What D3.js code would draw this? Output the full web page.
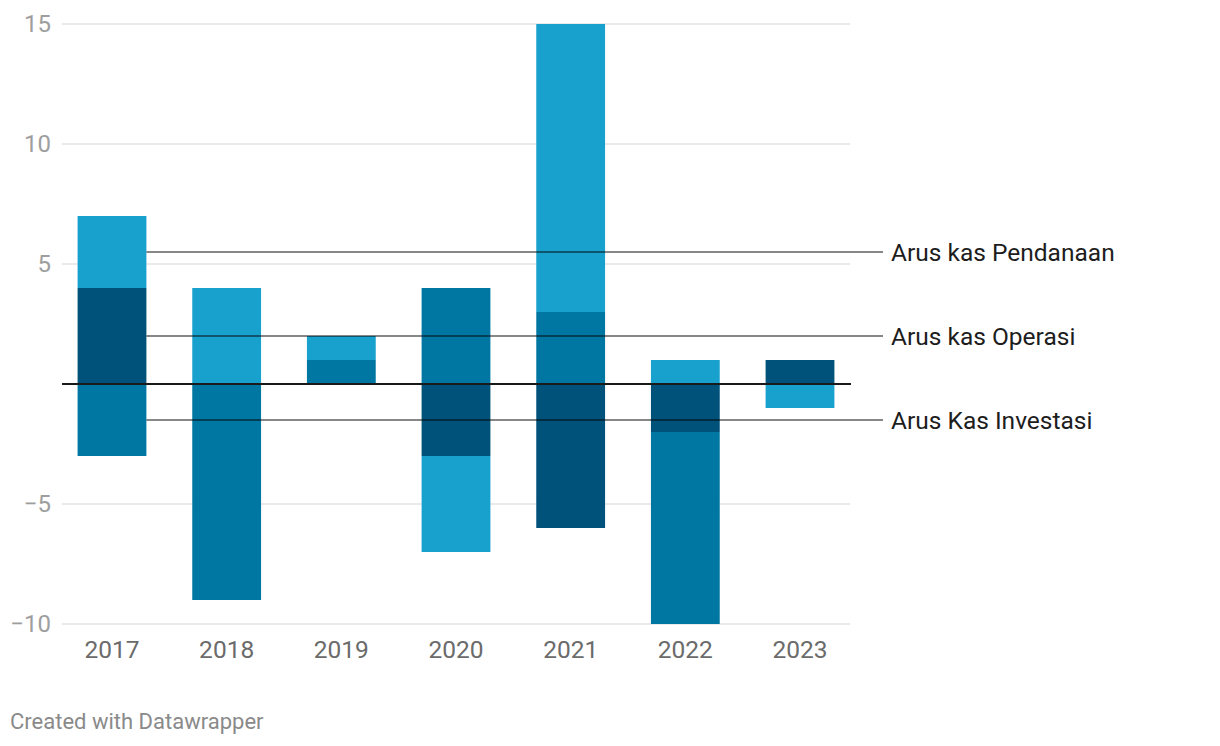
<!DOCTYPE html>
<html>
<head>
<meta charset="utf-8">
<script src="https://cdn.jsdelivr.net/npm/d3@7"></script>
<style>
  html, body { margin: 0; padding: 0; background: #fff; }
  svg { display: block; font-family: Roboto, "Noto Sans", sans-serif; }
</style>
</head>
<body>
<svg id="chart" width="1220" height="746"></svg>
<script>
// ---- data ----
const years = ["2017", "2018", "2019", "2020", "2021", "2022", "2023"];
const seriesNames = ["Arus kas Operasi", "Arus Kas Investasi", "Arus kas Pendanaan"];
const operasi    = [4, 0, 0, -3, -6, -2, 1];
const investasi  = [-3, -9, 1, 4, 3, -8, 0];
const pendanaan  = [3, 4, 1, -4, 12, 1, -1];
const yTicks = [-10, -5, 5, 10, 15];
const seriesColors = ["#00527a", "#0077a3", "#19a1cd"];
// label order top-to-bottom as shown
const labelOrder = ["Arus kas Pendanaan", "Arus kas Operasi", "Arus Kas Investasi"];

const rows = years.map((y, i) => ({
  year: y,
  "Arus kas Operasi": operasi[i],
  "Arus Kas Investasi": investasi[i],
  "Arus kas Pendanaan": pendanaan[i]
}));

const svg = d3.select("#chart");

const x = d3.scaleBand().domain(years).range([62, 850])
  .paddingInner(0.4).paddingOuter(0.136).align(0.5);
const y = d3.scaleLinear().domain([-10, 15]).range([624, 24]);

const stack = d3.stack().keys(seriesNames).offset(d3.stackOffsetDiverging);
const stacked = stack(rows);

// gridlines
svg.append("g").selectAll("line").data(yTicks).join("line")
  .attr("x1", 62).attr("x2", 850)
  .attr("y1", d => y(d)).attr("y2", d => y(d))
  .attr("stroke", "#e3e3e3").attr("stroke-width", 1.6);

// tick labels
svg.append("g").selectAll("text").data(yTicks).join("text")
  .attr("x", 51).attr("y", d => y(d))
  .attr("dy", "0.35em")
  .attr("text-anchor", "end")
  .attr("fill", "#9e9e9e")
  .attr("font-size", 24)
  .text(d => d3.format("")(d));

// bars
const color = d3.scaleOrdinal().domain(seriesNames).range(seriesColors);
svg.append("g").selectAll("g").data(stacked).join("g")
  .attr("fill", d => color(d.key))
  .selectAll("rect").data(d => d).join("rect")
  .attr("x", d => x(d.data.year))
  .attr("width", x.bandwidth())
  .attr("y", d => y(Math.max(d[0], d[1])))
  .attr("height", d => Math.abs(y(d[0]) - y(d[1])));

// zero line
svg.append("line")
  .attr("x1", 62).attr("x2", 851)
  .attr("y1", y(0)).attr("y2", y(0))
  .attr("stroke", "#1a1a1a").attr("stroke-width", 2);

// year labels
svg.append("g").selectAll("text").data(years).join("text")
  .attr("x", d => x(d) + x.bandwidth() / 2)
  .attr("y", 658)
  .attr("text-anchor", "middle")
  .attr("fill", "#6b6b6b")
  .attr("font-size", 24.5)
  .text(d => d);

// direct labels: midpoint of first bar's segments
const first = years[0];
const labelData = labelOrder.map(name => {
  const s = stacked.find(k => k.key === name);
  const seg = s[0];
  return { name, v: (seg[0] + seg[1]) / 2 };
});
const lx0 = x(first) + x.bandwidth();
const lg = svg.append("g");
lg.selectAll("line").data(labelData).join("line")
  .attr("x1", lx0).attr("x2", 883)
  .attr("y1", d => y(d.v)).attr("y2", d => y(d.v))
  .attr("stroke", "#000").attr("stroke-opacity", 0.47).attr("stroke-width", 2);
lg.selectAll("text").data(labelData).join("text")
  .attr("x", 891).attr("y", d => y(d.v))
  .attr("dy", "0.35em")
  .attr("fill", "#1d1d1d")
  .attr("font-size", 24.5)
  .text(d => d.name);

// credit
svg.append("text")
  .attr("x", 10).attr("y", 729)
  .attr("fill", "#8a8a8a")
  .attr("font-size", 22)
  .text("Created with Datawrapper");
</script>
</body>
</html>
